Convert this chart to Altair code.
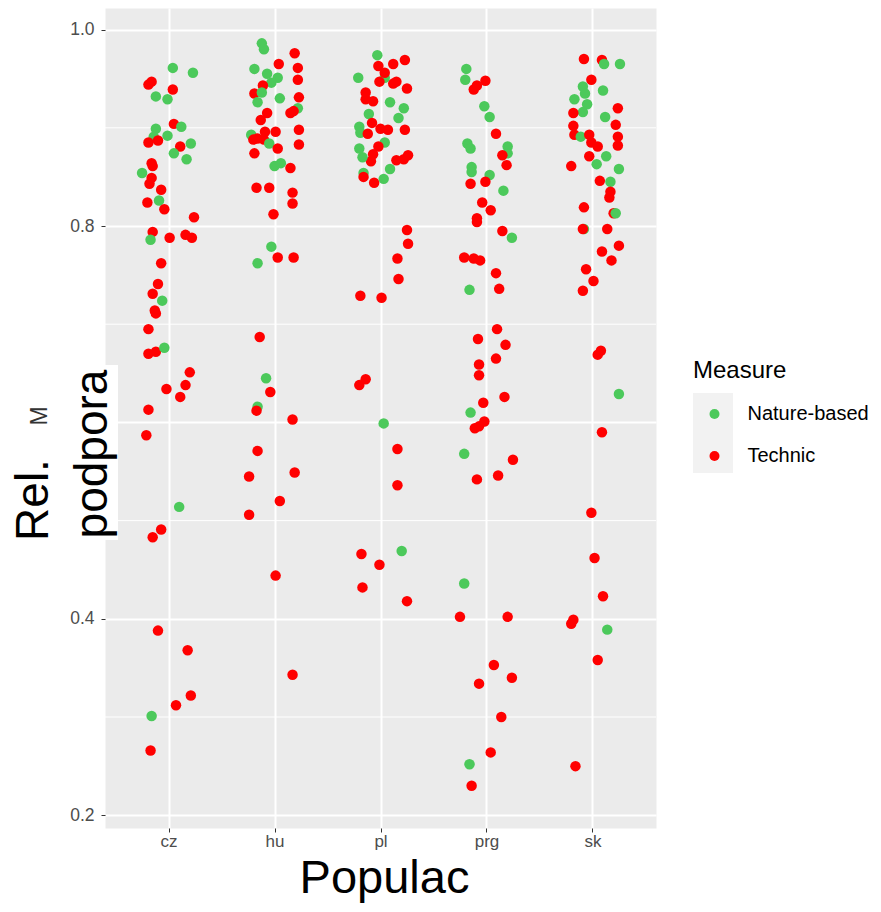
import json
import altair as alt
import pandas as pd

categories = ["cz", "hu", "pl", "prg", "sk"]
measure_names = {"N": "Nature-based", "T": "Technic"}
measure_colors = ["#4CC95B", "#FF0000"]
y_ticks = [0.2, 0.4, 0.6, 0.8, 1.0]
y_minor = [0.3, 0.5, 0.7, 0.9]

# ---- cz ----
cz_val = [0.961, 0.956, 0.944, 0.947, 0.939, 0.932, 0.929, 0.904, 0.901, 0.899,
          0.891, 0.892, 0.885, 0.887, 0.881, 0.884, 0.874, 0.868, 0.864, 0.861,
          0.854, 0.849, 0.843, 0.837, 0.824, 0.826, 0.817, 0.809, 0.794, 0.786,
          0.788, 0.791, 0.788, 0.762, 0.741, 0.731, 0.724, 0.714, 0.711, 0.695,
          0.670, 0.672, 0.676, 0.651, 0.634, 0.638, 0.626, 0.613, 0.587, 0.514,
          0.491, 0.483, 0.388, 0.368, 0.322, 0.312, 0.301, 0.266]
cz_jit = [0.04, 0.23, -0.19, -0.16, 0.04, -0.12, -0.01, 0.05, 0.12, -0.12,
          -0.14, -0.01, -0.19, -0.10, 0.11, 0.21, 0.05, 0.17, -0.16, -0.15,
          -0.25, -0.16, -0.18, -0.07, -0.20, -0.09, -0.04, 0.24, -0.15, -0.17,
          0.01, 0.16, 0.22, -0.07, -0.10, -0.15, -0.06, -0.13, -0.12, -0.19,
          -0.19, -0.12, -0.04, 0.20, -0.02, 0.16, 0.11, -0.19, -0.21, 0.10,
          -0.07, -0.15, -0.10, 0.18, 0.21, 0.07, -0.16, -0.17]
cz_mea = "NNTTTNNTNN" "NNTTTNNNTT" "NTTTTNTTTN" "TTTTTTNTTT" "TTNTTTTTTN" "TTTTTTNT"

# ---- hu ----
hu_val = [0.986, 0.980, 0.976, 0.965, 0.961, 0.960, 0.955, 0.951, 0.946, 0.949,
          0.943, 0.935, 0.936, 0.926, 0.930, 0.931, 0.920, 0.915, 0.917, 0.915,
          0.908, 0.898, 0.896, 0.896, 0.893, 0.888, 0.889, 0.888, 0.884, 0.883,
          0.874, 0.879, 0.861, 0.864, 0.859, 0.839, 0.839, 0.834, 0.823, 0.812,
          0.779, 0.762, 0.768, 0.768, 0.687, 0.645, 0.631, 0.616, 0.612, 0.603,
          0.571, 0.545, 0.549, 0.520, 0.506, 0.444, 0.343]
hu_jit = [-0.12, -0.10, 0.19, 0.04, 0.22, -0.19, -0.07, 0.03, -0.03, 0.22,
          -0.11, -0.19, -0.12, -0.16, 0.05, 0.23, 0.22, 0.15, 0.18, -0.07,
          -0.13, 0.23, -0.09, 0.01, -0.22, -0.20, -0.16, -0.10, -0.05, 0.23,
          -0.19, 0.03, 0.00, 0.06, 0.15, -0.17, -0.05, 0.17, 0.17, -0.01,
          -0.03, -0.16, 0.03, 0.18, -0.14, -0.08, -0.04, -0.16, -0.17, 0.17,
          -0.16, -0.24, 0.19, 0.05, -0.24, 0.01, 0.17]
hu_mea = "NNTTTNNNNT" "TTNNNTNTTT" "TTTTNTTTNT" "TTNNTTTTTT" "NNTTTNTNTT" "TTTTTTT"

# ---- pl ----
pl_val = [0.974, 0.963, 0.965, 0.969, 0.951, 0.951, 0.956, 0.947, 0.945, 0.947,
          0.940, 0.936, 0.929, 0.927, 0.926, 0.920, 0.914, 0.910, 0.905, 0.901,
          0.895, 0.894, 0.899, 0.898, 0.898, 0.885, 0.881, 0.879, 0.873, 0.866,
          0.870, 0.867, 0.868, 0.872, 0.858, 0.854, 0.850, 0.844, 0.848, 0.796,
          0.782, 0.767, 0.746, 0.729, 0.727, 0.644, 0.638, 0.599, 0.573, 0.536,
          0.469, 0.466, 0.455, 0.432, 0.418]
pl_jit = [-0.03, -0.02, 0.12, 0.23, -0.21, 0.04, 0.04, -0.01, 0.12, 0.15,
          0.25, -0.14, -0.14, -0.07, 0.09, 0.22, -0.11, 0.17, -0.08, -0.20,
          -0.19, -0.12, 0.00, 0.07, 0.23, 0.04, -0.02, -0.20, -0.07, -0.09,
          -0.17, 0.15, 0.22, 0.26, 0.09, -0.16, -0.16, -0.06, 0.03, 0.25,
          0.26, 0.16, 0.17, -0.19, 0.01, -0.14, -0.20, 0.03, 0.16, 0.16,
          0.20, -0.18, -0.01, -0.17, 0.25]
pl_mea = "NTTTNNTTTT" "TTTTNNNNTN" "NTTTTNTNTT" "NTTTNNTTNT" "TTTTTTTNTT" "NTTTT"

# ---- prg ----
prg_val = [0.960, 0.949, 0.939, 0.943, 0.948, 0.922, 0.911, 0.894, 0.884, 0.879,
           0.881, 0.874, 0.872, 0.862, 0.860, 0.855, 0.852, 0.845, 0.843, 0.836,
           0.824, 0.816, 0.808, 0.804, 0.795, 0.788, 0.768, 0.767, 0.765, 0.752,
           0.735, 0.736, 0.695, 0.685, 0.679, 0.665, 0.659, 0.648, 0.626, 0.620,
           0.610, 0.601, 0.596, 0.594, 0.568, 0.562, 0.546, 0.542, 0.436, 0.402,
           0.402, 0.353, 0.334, 0.340, 0.300, 0.264, 0.252, 0.230]
prg_jit = [-0.19, -0.20, -0.12, -0.09, -0.01, -0.02, 0.03, 0.09, -0.18, -0.15,
           0.20, 0.20, 0.15, 0.19, -0.14, -0.14, 0.03, -0.01, -0.15, 0.16,
           -0.04, 0.04, -0.09, -0.09, 0.15, 0.24, -0.21, -0.12, -0.06, 0.09,
           -0.16, 0.12, 0.10, -0.08, 0.18, 0.09, -0.07, -0.07, 0.17, -0.03,
           -0.15, -0.02, -0.07, -0.11, -0.21, 0.25, 0.11, -0.09, -0.21, -0.25,
           0.20, 0.07, -0.07, 0.24, 0.14, 0.04, -0.16, -0.14]
prg_mea = "NNTTTNNTNN" "NNTTNNNTTN" "TTTTTNTTTT" "NTTTTTTTTT" "NTTTNTTTNT" "TTTTTTNT"

# ---- sk ----
sk_val = [0.970, 0.969, 0.965, 0.965, 0.949, 0.942, 0.935, 0.938, 0.929, 0.924,
          0.916, 0.915, 0.920, 0.911, 0.902, 0.903, 0.893, 0.891, 0.893, 0.891,
          0.882, 0.885, 0.881, 0.871, 0.871, 0.861, 0.863, 0.858, 0.846, 0.845,
          0.835, 0.829, 0.819, 0.813, 0.813, 0.797, 0.797, 0.797, 0.780, 0.774,
          0.765, 0.756, 0.744, 0.734, 0.669, 0.673, 0.629, 0.590, 0.508, 0.462,
          0.423, 0.395, 0.399, 0.389, 0.358, 0.250]
sk_jit = [-0.08, 0.09, 0.11, 0.26, -0.01, -0.09, -0.07, 0.10, -0.17, -0.05,
          -0.09, -0.18, 0.24, 0.12, -0.18, 0.22, -0.17, -0.11, -0.03, 0.24,
          0.24, -0.01, 0.05, -0.03, 0.13, -0.20, 0.04, 0.25, 0.07, 0.17,
          0.17, 0.16, -0.08, 0.20, 0.22, -0.08, -0.09, 0.14, 0.25, 0.09,
          0.18, -0.06, 0.01, -0.09, 0.05, 0.08, 0.25, 0.09, -0.01, 0.02,
          0.10, -0.20, -0.18, 0.14, 0.05, -0.16]
sk_mea = "TTNNTNNNNN" "NTTNTTTNTT" "TTTTNTNNTN" "TTTTNNTTTT" "TTTTTTNTTT" "TTTNTT"

groups = [
    (cz_val, cz_jit, cz_mea),
    (hu_val, hu_jit, hu_mea),
    (pl_val, pl_jit, pl_mea),
    (prg_val, prg_jit, prg_mea),
    (sk_val, sk_jit, sk_mea),
]

rows = []
for i, (vals, jits, codes) in enumerate(groups):
    n = min(len(vals), len(jits), len(codes))
    for v, j, c in zip(vals[:n], jits[:n], codes[:n]):
        rows.append({"Populac": categories[i], "pos": i + j, "value": v,
                     "Measure": measure_names[c]})
df = pd.DataFrame(rows)

FONT = "Liberation Sans"
label_expr = json.dumps(categories) + "[datum.value]"

x_scale = alt.Scale(domain=[-0.6, len(categories) - 1 + 0.6], nice=False, zero=False)
y_scale = alt.Scale(domain=[0.187, 1.022], nice=False, zero=False)

minor = alt.Chart(pd.DataFrame({"m": y_minor})).mark_rule(
    color="white", strokeWidth=1
).encode(y=alt.Y("m:Q", scale=y_scale))

points = alt.Chart(df).mark_circle(size=110, opacity=1).encode(
    x=alt.X("pos:Q", scale=x_scale,
            axis=alt.Axis(values=list(range(len(categories))), labelExpr=label_expr,
                          title="Populac", titleFontSize=47, titleFont=FONT,
                          titleFontWeight="normal", titleColor="black",
                          titleX=279, titleY=64, titleAlign="center",
                          titleBaseline="alphabetic", labelPadding=1,
                          labelFontSize=17)),
    y=alt.Y("value:Q", scale=y_scale,
            axis=alt.Axis(values=y_ticks, format=".1f", title=None, labelPadding=7,
                          labelFontSize=17.5)),
    color=alt.Color("Measure:N",
                    scale=alt.Scale(domain=list(measure_names.values()), range=measure_colors),
                    legend=alt.Legend(orient="none", legendX=588, legendY=351,
                                      title="Measure", titleFontSize=24, titleFont=FONT,
                                      titleFontWeight="normal", titleColor="black",
                                      titlePadding=21, labelFontSize=20, labelFont=FONT,
                                      labelColor="black", symbolType="circle",
                                      symbolSize=100, symbolStrokeWidth=0,
                                      symbolOffset=11.5, labelOffset=23, rowPadding=22,
                                      padding=0)),
)

one = pd.DataFrame({"a": [0]})

legend_bg = alt.Chart(one).mark_rect(color="#F2F2F2").encode(
    x=alt.value(588), x2=alt.value(628), y=alt.value(385), y2=alt.value(465))

box_podpora = alt.Chart(one).mark_rect(color="white").encode(
    x=alt.value(-42), x2=alt.value(13), y=alt.value(357), y2=alt.value(532))
box_m = alt.Chart(one).mark_rect(color="white").encode(
    x=alt.value(-87), x2=alt.value(-43), y=alt.value(385), y2=alt.value(432))

t_rel = alt.Chart(one).mark_text(text="Rel.", angle=270, fontSize=46, font=FONT,
                                 color="black", align="center", baseline="alphabetic").encode(
    x=alt.value(-57), y=alt.value(492))
t_m = alt.Chart(one).mark_text(text="M", angle=270, fontSize=23, font=FONT,
                               color="#333333", align="center", baseline="alphabetic").encode(
    x=alt.value(-58), y=alt.value(408))
t_pod = alt.Chart(one).mark_text(text="podpora", angle=270, fontSize=46, font=FONT,
                                 color="black", align="center", baseline="alphabetic").encode(
    x=alt.value(2), y=alt.value(446))

chart = alt.layer(
    minor, points, legend_bg, box_m, box_podpora, t_rel, t_m, t_pod
).properties(
    width=551, height=820,
    autosize=alt.AutoSizeParams(type="none"),
    padding={"left": 97, "top": 0, "right": 217, "bottom": 76},
).configure_view(
    fill="#EBEBEB", stroke="transparent"
).configure_axis(
    grid=True, gridColor="white", gridWidth=2, domain=False,
    tickColor="#333333", tickSize=4, tickWidth=1,
    labelColor="#4D4D4D", labelFontSize=16, labelFont=FONT,
)

chart.save("out.html", embed_options={"renderer": "svg", "actions": False})
